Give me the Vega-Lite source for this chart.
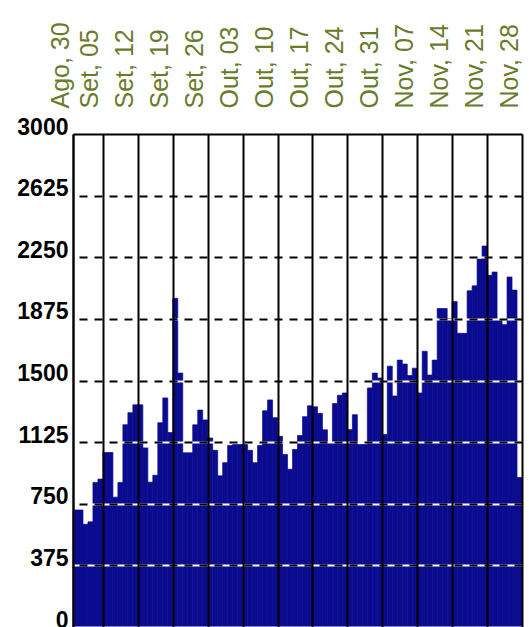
{
  "$schema": "https://vega.github.io/schema/vega-lite/v6.json",
  "width": 449,
  "height": 493,
  "autosize": {"type": "none"},
  "padding": {"left": 73, "top": 134, "right": 7, "bottom": 0},
  "background": "white",
  "config": {"view": {"stroke": null}, "font": "Liberation Sans", "axisX": {"labelOverlap": false}},
  "data": {"values": [
    {"date": "2010-08-30", "end": "2010-08-31", "value": 712},
    {"date": "2010-08-31", "end": "2010-09-01", "value": 712},
    {"date": "2010-09-01", "end": "2010-09-02", "value": 625},
    {"date": "2010-09-02", "end": "2010-09-03", "value": 640},
    {"date": "2010-09-03", "end": "2010-09-04", "value": 880},
    {"date": "2010-09-04", "end": "2010-09-05", "value": 900},
    {"date": "2010-09-05", "end": "2010-09-06", "value": 1062},
    {"date": "2010-09-06", "end": "2010-09-07", "value": 1062},
    {"date": "2010-09-07", "end": "2010-09-08", "value": 790},
    {"date": "2010-09-08", "end": "2010-09-09", "value": 880},
    {"date": "2010-09-09", "end": "2010-09-10", "value": 1231},
    {"date": "2010-09-10", "end": "2010-09-11", "value": 1304},
    {"date": "2010-09-11", "end": "2010-09-12", "value": 1352},
    {"date": "2010-09-12", "end": "2010-09-13", "value": 1352},
    {"date": "2010-09-13", "end": "2010-09-14", "value": 1090},
    {"date": "2010-09-14", "end": "2010-09-15", "value": 881},
    {"date": "2010-09-15", "end": "2010-09-16", "value": 923},
    {"date": "2010-09-16", "end": "2010-09-17", "value": 1243},
    {"date": "2010-09-17", "end": "2010-09-18", "value": 1394},
    {"date": "2010-09-18", "end": "2010-09-19", "value": 1183},
    {"date": "2010-09-19", "end": "2010-09-20", "value": 2000},
    {"date": "2010-09-20", "end": "2010-09-21", "value": 1545},
    {"date": "2010-09-21", "end": "2010-09-22", "value": 1060},
    {"date": "2010-09-22", "end": "2010-09-23", "value": 1060},
    {"date": "2010-09-23", "end": "2010-09-24", "value": 1230},
    {"date": "2010-09-24", "end": "2010-09-25", "value": 1320},
    {"date": "2010-09-25", "end": "2010-09-26", "value": 1260},
    {"date": "2010-09-26", "end": "2010-09-27", "value": 1150},
    {"date": "2010-09-27", "end": "2010-09-28", "value": 1075},
    {"date": "2010-09-28", "end": "2010-09-29", "value": 920},
    {"date": "2010-09-29", "end": "2010-09-30", "value": 1000},
    {"date": "2010-09-30", "end": "2010-10-01", "value": 1105},
    {"date": "2010-10-01", "end": "2010-10-02", "value": 1110},
    {"date": "2010-10-02", "end": "2010-10-03", "value": 1110},
    {"date": "2010-10-03", "end": "2010-10-04", "value": 1110},
    {"date": "2010-10-04", "end": "2010-10-05", "value": 1075},
    {"date": "2010-10-05", "end": "2010-10-06", "value": 1000},
    {"date": "2010-10-06", "end": "2010-10-07", "value": 1105},
    {"date": "2010-10-07", "end": "2010-10-08", "value": 1316},
    {"date": "2010-10-08", "end": "2010-10-09", "value": 1382},
    {"date": "2010-10-09", "end": "2010-10-10", "value": 1274},
    {"date": "2010-10-10", "end": "2010-10-11", "value": 1160},
    {"date": "2010-10-11", "end": "2010-10-12", "value": 1050},
    {"date": "2010-10-12", "end": "2010-10-13", "value": 960},
    {"date": "2010-10-13", "end": "2010-10-14", "value": 1080},
    {"date": "2010-10-14", "end": "2010-10-15", "value": 1165},
    {"date": "2010-10-15", "end": "2010-10-16", "value": 1280},
    {"date": "2010-10-16", "end": "2010-10-17", "value": 1346},
    {"date": "2010-10-17", "end": "2010-10-18", "value": 1340},
    {"date": "2010-10-18", "end": "2010-10-19", "value": 1300},
    {"date": "2010-10-19", "end": "2010-10-20", "value": 1200},
    {"date": "2010-10-20", "end": "2010-10-21", "value": 1123},
    {"date": "2010-10-21", "end": "2010-10-22", "value": 1360},
    {"date": "2010-10-22", "end": "2010-10-23", "value": 1410},
    {"date": "2010-10-23", "end": "2010-10-24", "value": 1424},
    {"date": "2010-10-24", "end": "2010-10-25", "value": 1201},
    {"date": "2010-10-25", "end": "2010-10-26", "value": 1292},
    {"date": "2010-10-26", "end": "2010-10-27", "value": 1110},
    {"date": "2010-10-27", "end": "2010-10-28", "value": 1110},
    {"date": "2010-10-28", "end": "2010-10-29", "value": 1455},
    {"date": "2010-10-29", "end": "2010-10-30", "value": 1545},
    {"date": "2010-10-30", "end": "2010-10-31", "value": 1515},
    {"date": "2010-10-31", "end": "2010-11-01", "value": 1171},
    {"date": "2010-11-01", "end": "2010-11-02", "value": 1587},
    {"date": "2010-11-02", "end": "2010-11-03", "value": 1406},
    {"date": "2010-11-03", "end": "2010-11-04", "value": 1624},
    {"date": "2010-11-04", "end": "2010-11-05", "value": 1600},
    {"date": "2010-11-05", "end": "2010-11-06", "value": 1530},
    {"date": "2010-11-06", "end": "2010-11-07", "value": 1575},
    {"date": "2010-11-07", "end": "2010-11-08", "value": 1424},
    {"date": "2010-11-08", "end": "2010-11-09", "value": 1678},
    {"date": "2010-11-09", "end": "2010-11-10", "value": 1533},
    {"date": "2010-11-10", "end": "2010-11-11", "value": 1624},
    {"date": "2010-11-11", "end": "2010-11-12", "value": 1938},
    {"date": "2010-11-12", "end": "2010-11-13", "value": 1938},
    {"date": "2010-11-13", "end": "2010-11-14", "value": 1877},
    {"date": "2010-11-14", "end": "2010-11-15", "value": 1980},
    {"date": "2010-11-15", "end": "2010-11-16", "value": 1787},
    {"date": "2010-11-16", "end": "2010-11-17", "value": 1787},
    {"date": "2010-11-17", "end": "2010-11-18", "value": 2046},
    {"date": "2010-11-18", "end": "2010-11-19", "value": 2076},
    {"date": "2010-11-19", "end": "2010-11-20", "value": 2240},
    {"date": "2010-11-20", "end": "2010-11-21", "value": 2318},
    {"date": "2010-11-21", "end": "2010-11-22", "value": 2140},
    {"date": "2010-11-22", "end": "2010-11-23", "value": 2160},
    {"date": "2010-11-23", "end": "2010-11-24", "value": 1870},
    {"date": "2010-11-24", "end": "2010-11-25", "value": 1840},
    {"date": "2010-11-25", "end": "2010-11-26", "value": 2130},
    {"date": "2010-11-26", "end": "2010-11-27", "value": 2050},
    {"date": "2010-11-27", "end": "2010-11-28", "value": 910}
  ]},
  "encoding": {
    "x": {
      "field": "date",
      "type": "temporal",
      "scale": {"type": "utc", "domain": [
        {"year": 2010, "month": 8, "date": 30, "utc": true},
        {"year": 2010, "month": 11, "date": 28, "utc": true}
      ]},
      "axis": {
        "orient": "top",
        "title": null,
        "values": [
          {"year": 2010, "month": 8, "date": 30, "utc": true},
          {"year": 2010, "month": 9, "date": 5, "utc": true},
          {"year": 2010, "month": 9, "date": 12, "utc": true},
          {"year": 2010, "month": 9, "date": 19, "utc": true},
          {"year": 2010, "month": 9, "date": 26, "utc": true},
          {"year": 2010, "month": 10, "date": 3, "utc": true},
          {"year": 2010, "month": 10, "date": 10, "utc": true},
          {"year": 2010, "month": 10, "date": 17, "utc": true},
          {"year": 2010, "month": 10, "date": 24, "utc": true},
          {"year": 2010, "month": 10, "date": 31, "utc": true},
          {"year": 2010, "month": 11, "date": 7, "utc": true},
          {"year": 2010, "month": 11, "date": 14, "utc": true},
          {"year": 2010, "month": 11, "date": 21, "utc": true},
          {"year": 2010, "month": 11, "date": 28, "utc": true}
        ],
        "labelExpr": "['Jan','Fev','Mar','Abr','Mai','Jun','Jul','Ago','Set','Out','Nov','Dez'][utcmonth(datum.value)] + ', ' + utcFormat(datum.value, '%d')",
        "labelAngle": 270,
        "labelColor": "#6b7b2c",
        "labelFont": "Liberation Sans",
        "labelFontSize": 25,
        "labelOffset": -13,
        "labelPadding": 26,
        "labelOverlap": false,
        "labelBound": false,
        "labelFlush": false,
        "ticks": false,
        "grid": true,
        "gridColor": "black",
        "gridOpacity": 1,
        "gridWidth": 2,
        "domain": true,
        "domainColor": "black",
        "domainWidth": 2,
        "zindex": 3
      }
    },
    "x2": {"field": "end"},
    "y2": {"datum": 0}
  },
  "layer": [
    {
      "mark": {"type": "bar", "color": "#0b0b8f", "stroke": "#0b0b8f", "strokeWidth": 0.7},
      "encoding": {
        "y": {
          "field": "value",
          "type": "quantitative",
          "scale": {"domain": [0, 3000], "nice": false},
          "axis": {
            "title": null,
            "values": [0, 375, 750, 1125, 1500, 1875, 2250, 2625, 3000],
            "format": "d",
            "labelFont": "Liberation Sans",
            "labelFontSize": 23,
            "labelFontWeight": "bold",
            "labelColor": "black",
            "labelBaseline": "alphabetic",
            "labelPadding": 5,
            "labelFlush": false,
            "labelBound": false,
            "labelOverlap": false,
            "ticks": false,
            "domain": true,
            "domainColor": "#222222",
            "domainWidth": 2,
            "grid": true,
            "gridColor": "white",
            "gridOpacity": 1,
            "gridWidth": 2,
            "zindex": 1
          }
        }
      }
    },
    {
      "mark": {"type": "bar", "opacity": 0},
      "encoding": {
        "y": {
          "field": "value",
          "type": "quantitative",
          "axis": {
            "orient": "right",
            "title": null,
            "values": [375, 750, 1125, 1500, 1875, 2250, 2625],
            "labels": false,
            "ticks": false,
            "domain": false,
            "grid": true,
            "gridColor": "black",
            "gridOpacity": 1,
            "gridWidth": 2,
            "gridDash": [8, 7],
            "zindex": 2
          }
        }
      }
    }
  ],
  "resolve": {"axis": {"y": "independent"}}
}
